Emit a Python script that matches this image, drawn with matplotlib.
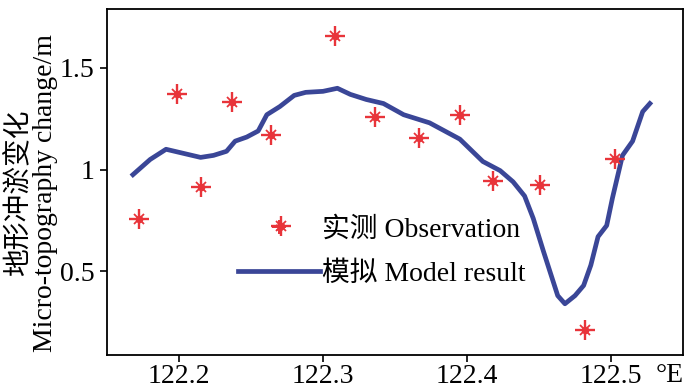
import matplotlib.pyplot as plt
from matplotlib.legend_handler import HandlerTuple

plt.rcParams['font.family'] = ['Liberation Serif', 'Noto Sans CJK SC']

# observed micro-topography change
obs_lon = [122.172, 122.1986, 122.2153, 122.237, 122.264, 122.271, 122.308,
           122.336, 122.367, 122.395, 122.418, 122.451, 122.482, 122.503]
obs_val = [0.759, 1.374, 0.916, 1.334, 1.172, 0.725, 1.659,
           1.26, 1.157, 1.27, 0.946, 0.926, 0.213, 1.054]

# model result along the section
mod_lon = [122.168, 122.180, 122.191, 122.203, 122.215, 122.224, 122.233, 122.239,
           122.247, 122.255, 122.261, 122.270, 122.280, 122.288, 122.300, 122.310,
           122.319, 122.330, 122.342, 122.356, 122.374, 122.395, 122.411, 122.423,
           122.432, 122.440, 122.446, 122.453, 122.463, 122.468, 122.475, 122.481,
           122.486, 122.491, 122.497, 122.501, 122.508, 122.515, 122.522, 122.527]
mod_val = [0.975, 1.05, 1.10, 1.08, 1.06, 1.07, 1.09, 1.14,
           1.16, 1.19, 1.27, 1.31, 1.365, 1.38, 1.385, 1.40,
           1.37, 1.345, 1.325, 1.27, 1.23, 1.15, 1.04, 0.995,
           0.94, 0.87, 0.76, 0.60, 0.38, 0.34, 0.38, 0.43,
           0.53, 0.67, 0.725, 0.86, 1.07, 1.14, 1.285, 1.325]

red = '#e8343a'
blue = '#3a4697'
fs = 20

fig = plt.figure(figsize=(7, 3.89), dpi=100)
ax = fig.add_axes([107 / 700, 1 - 355 / 389, 576 / 700, 346 / 389])

line, = ax.plot(mod_lon, mod_val, color=blue, lw=3.4)
ax.plot(obs_lon, obs_val, ls='none', marker='+', ms=14, mew=1.7, color=red)
ax.plot(obs_lon, obs_val, ls='none', marker='x', ms=7, mew=1.3, color=red)
ax.plot(obs_lon, obs_val, ls='none', marker='o', ms=4.5, color=red)

ax.set_xlim(122.15, 122.55)
ax.set_ylim(0.088, 1.79)
ax.set_xticks([122.2, 122.3, 122.4, 122.5])
ax.set_xticklabels(['122.2', '122.3', '122.4', '122.5'])
ax.set_yticks([0.5, 1, 1.5])
ax.set_yticklabels(['0.5', '1', '1.5'])
ax.tick_params(labelsize=fs, length=5, width=1.2, direction='out', pad=4)
ax.tick_params(axis='x', pad=1.5)
for s in ax.spines.values():
    s.set_linewidth(1.3)

fig.text(32 / 700, 1 - 193 / 389, '地形冲淤变化\nMicro-topography change/m',
         fontsize=fs, rotation=90, ha='center', va='center', linespacing=1.0)
fig.text(684 / 700, 1 - 375 / 389, '°E', fontsize=fs, ha='right', va='center')

leg_p = ax.plot([], [], ls='none', marker='+', ms=10, mew=1.4, color=red)[0]
leg_x = ax.plot([], [], ls='none', marker='x', ms=5, mew=1.0, color=red)[0]
ax.legend([(leg_p, leg_x), line], ['实测 Observation', '模拟 Model result'],
          handler_map={tuple: HandlerTuple(ndivide=1, pad=0)},
          loc='upper left', bbox_to_anchor=(0.227, 0.398), frameon=False,
          borderpad=0, borderaxespad=0,
          fontsize=fs, handlelength=2.95, handletextpad=0.08, labelspacing=0.65)

fig.savefig('out.png', dpi=100)
